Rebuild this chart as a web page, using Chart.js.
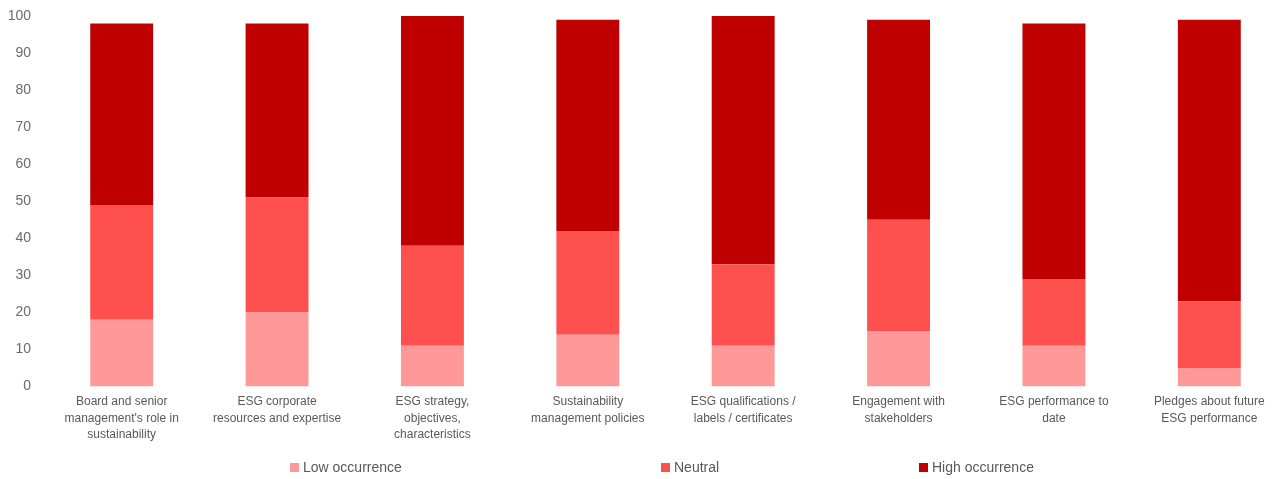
<!DOCTYPE html>
<html>
<head>
<meta charset="utf-8">
<script src="https://cdn.jsdelivr.net/npm/chart.js@4.4.1/dist/chart.umd.min.js"></script>
<style>
    html, body { margin: 0; padding: 0; background: #fff; }
    #wrap { position: relative; width: 1287px; height: 479px; }
    #legend { position: absolute; left: 0; top: 0; width: 100%; height: 100%; pointer-events: none; }
    .item { position: absolute; top: 459px; font: 14px "Liberation Sans", Arial, sans-serif; color: #595959; white-space: nowrap; }
    .item span.box { display: inline-block; width: 9px; height: 9px; margin-right: 4px; vertical-align: 0px; }
</style>
</head>
<body>
<div id="wrap">
    <canvas id="occurrenceChart"></canvas>
    <div id="legend"></div>
</div>
<script>
const categories = [
    ["Board and senior", "management's role in", "sustainability"],
    ["ESG corporate", "resources and expertise"],
    ["ESG strategy,", "objectives,", "characteristics"],
    ["Sustainability", "management policies"],
    ["ESG qualifications /", "labels / certificates"],
    ["Engagement with", "stakeholders"],
    ["ESG performance to", "date"],
    ["Pledges about future", "ESG performance"]
];
const lowOccurrence = [18, 20, 11, 14, 11, 15, 11, 5];
const neutral = [31, 31, 27, 28, 22, 30, 18, 18];
const highOccurrence = [49, 47, 62, 57, 67, 54, 69, 76];
const yTicks = [0, 10, 20, 30, 40, 50, 60, 70, 80, 90, 100];

const seriesNames = ['Low occurrence', 'Neutral', 'High occurrence'];
const seriesColors = ['#FF9999', '#FF5050', '#C00000'];
const legendLeft = [290, 661, 919];

const textGray = '#595959';

const ctx = document.getElementById('occurrenceChart').getContext('2d');
const chart = new Chart(ctx, {
    type: 'bar',
    data: {
        labels: categories,
        datasets: [lowOccurrence, neutral, highOccurrence].map((values, i) => ({
            label: seriesNames[i],
            data: values,
            backgroundColor: seriesColors[i],
            borderWidth: 0,
            barPercentage: 0.405,
            categoryPercentage: 1
        }))
    },
    options: {
        responsive: true,
        maintainAspectRatio: false,
        animation: false,
        layout: { padding: { top: 16, right: 0, bottom: 29, left: 0 } },
        plugins: {
            legend: { display: false },
            tooltip: { enabled: false }
        },
        scales: {
            x: {
                stacked: true,
                grid: { display: false, drawTicks: false },
                border: { display: false },
                ticks: {
                    color: textGray,
                    padding: 7,
                    maxRotation: 0,
                    autoSkip: false,
                    font: { family: '"Liberation Sans", Arial', size: 12, lineHeight: '16.5px' }
                }
            },
            y: {
                stacked: true,
                min: 0,
                max: 100,
                afterFit: scale => {
                    scale.width = 44;
                    scale.paddingTop = 0;
                    scale.paddingBottom = 0;
                },
                afterBuildTicks: scale => { scale.ticks = yTicks.map(v => ({ value: v })); },
                grid: { display: false, drawTicks: false },
                border: { display: false },
                ticks: {
                    color: '#6b6b6b',
                    padding: 13,
                    font: { family: '"Liberation Sans", Arial', size: 14 }
                }
            }
        }
    }
});

// legend spread across the bottom like the source workbook
const legend = document.getElementById('legend');
chart.data.datasets.forEach((ds, i) => {
    const item = document.createElement('div');
    item.className = 'item';
    item.style.left = legendLeft[i] + 'px';
    item.innerHTML = `<span class="box" style="background:${ds.backgroundColor}"></span>${ds.label}`;
    legend.appendChild(item);
});
</script>
</body>
</html>
